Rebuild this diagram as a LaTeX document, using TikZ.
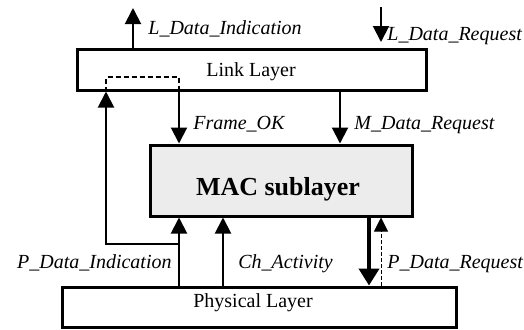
\documentclass[tikz,border=0pt]{standalone}
\usepackage{fontspec}
\setmainfont{Liberation Serif}
\usetikzlibrary{arrows.meta}
\begin{document}
\begin{tikzpicture}[x=0.5pt,y=-0.5pt,
 box/.style={draw, line width=1.5pt, rectangle, inner sep=0pt},
 lbl/.style={anchor=base west, inner sep=0pt, font=\fontsize{10}{12}\selectfont\itshape},
 ttl/.style={anchor=base, inner sep=0pt, font=\fontsize{10}{12}\selectfont},
 arr/.style={line width=1pt, -{Triangle[length=8pt,width=8pt]}},
 thickarr/.style={line width=2pt, -{Triangle[length=8.5pt,width=10pt]}},
 dasharr/.style={line width=0.5pt, dash pattern=on 2pt off 1pt, -{Triangle[length=7pt,width=7pt]}},
 dline/.style={line width=0.6pt, dash pattern=on 2.5pt off 1.5pt}]
\useasboundingbox (0,0) rectangle (524,329);
% boxes
\node[box, minimum width=174.5pt, minimum height=20.5pt] (link) at (251.5,69.5) {};
\node[box, fill=gray!15, minimum width=131pt, minimum height=35.5pt] (mac) at (281,180.5) {};
\node[box, minimum width=197pt, minimum height=20pt] (phys) at (259,307) {};
\node[ttl] (linkt) at (251,76) {Link Layer};
\node[ttl, font=\fontsize{13}{15}\selectfont\bfseries] (mact) at (278,195) {MAC sublayer};
\node[ttl] (phyt) at (253,307) {Physical Layer};
% coordinates
\coordinate (xLI) at (133,0);
\coordinate (xA) at (106,0);
\coordinate (xF) at (179,0);
\coordinate (xM) at (340,0);
\coordinate (xC) at (223,0);
\coordinate (xT) at (369,0);
\coordinate (xD) at (381,0);
\coordinate (liEnd) at (133,8);
\coordinate (lrStart) at (381,7);
\coordinate (lrEnd) at (381,42);
\coordinate (junc) at (179,244);
\coordinate (corner) at (106,244);
\coordinate (dl1) at (106,77);
\coordinate (dl2) at (179,77);
% connectors
\draw[arr] (link.north -| xLI) -- (liEnd);
\draw[arr] (lrStart) -- (lrEnd);
\draw[arr] (link.south -| xF) -- (mac.north -| xF);
\draw[arr] (link.south -| xM) -- (mac.north -| xM);
\draw[dline] (link.south -| xA) -- (dl1) -- (dl2) -- (link.south -| xF);
\draw[arr] (phys.north -| xF) -- (mac.south -| xF);
\draw[arr] (junc) -- (corner) -- (link.south -| xA);
\draw[arr] (phys.north -| xC) -- (mac.south -| xC);
\draw[thickarr] (mac.south -| xT) -- (phys.north -| xT);
\draw[dasharr] (phys.north -| xD) -- (mac.south -| xD);
% labels
\node[lbl] (lLI) at (148,34) {L\_Data\_Indication};
\node[lbl] (lLR) at (387,40) {L\_Data\_Request};
\node[lbl] (lFO) at (193,129) {Frame\_OK};
\node[lbl] (lMD) at (354,129) {M\_Data\_Request};
\node[lbl, anchor=base east] (lPI) at (172,268) {P\_Data\_Indication};
\node[lbl] (lCA) at (238,268) {Ch\_Activity};
\node[lbl] (lPR) at (387,268) {P\_Data\_Request};
\end{tikzpicture}
\end{document}
